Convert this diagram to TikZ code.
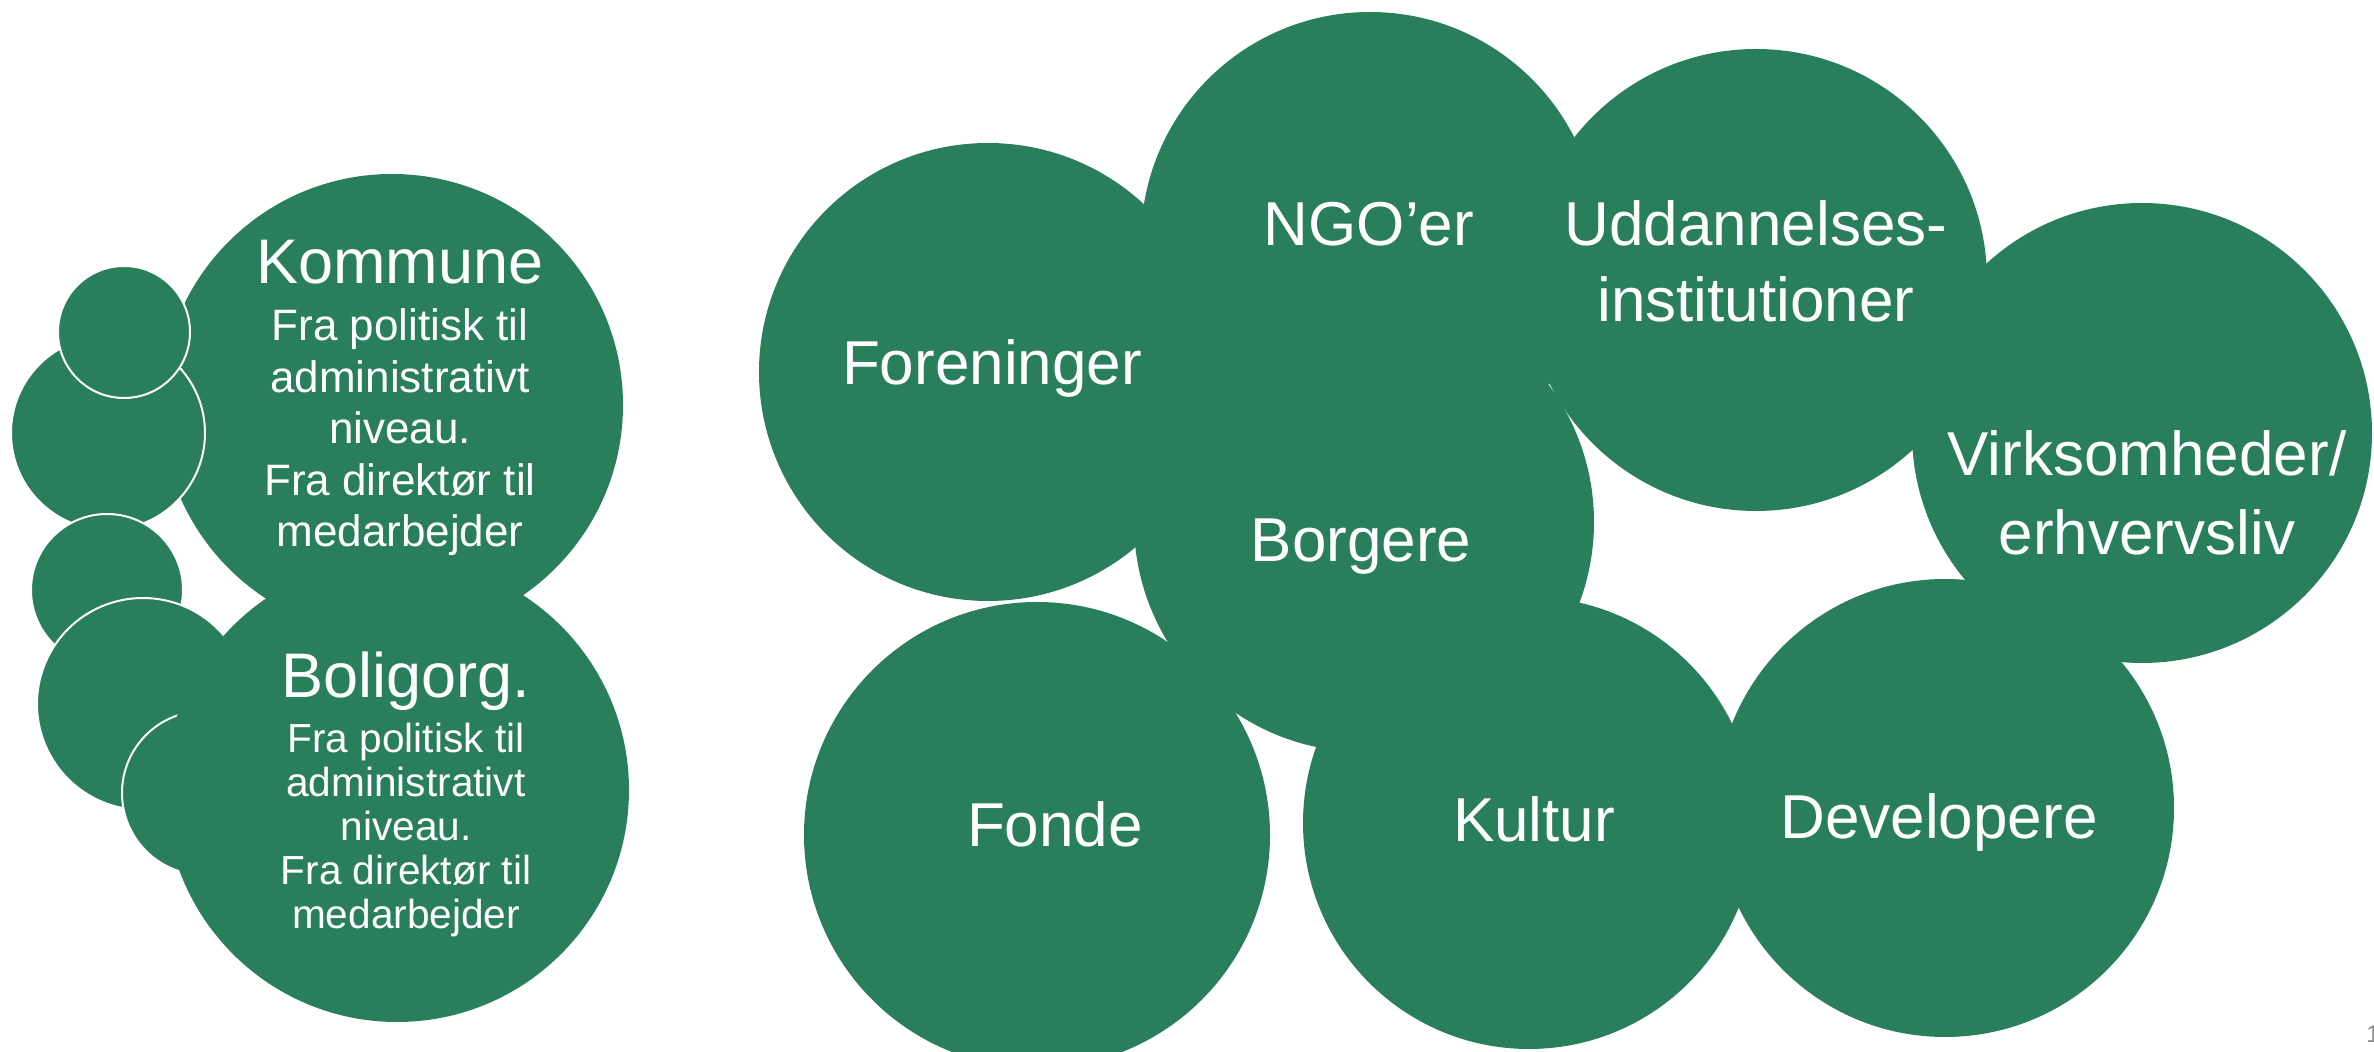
\documentclass[tikz,border=0pt]{standalone}
\usepackage{fontspec}
\setmainfont{Liberation Sans}
\definecolor{grn}{RGB}{41,126,92}
\tikzset{
  bub/.style={circle, fill=grn, inner sep=0pt, outer sep=0pt, minimum size=#1},
  ring/.style={bub=#1, draw=white, line width=1pt},
  lab/.style={text=white, anchor=base, inner sep=0pt, font=\fontsize{31}{37}\selectfont},
  head/.style={lab, font=\fontsize{31.5}{38}\selectfont},
  subA/.style={lab, font=\fontsize{22}{26}\selectfont},
  subB/.style={lab, font=\fontsize{20.3}{24}\selectfont},
  pagenum/.style={anchor=base west, inner sep=0pt, text=black!45, font=\fontsize{12}{14}\selectfont}
}
\begin{document}
\begin{tikzpicture}[x=0.5pt,y=-0.5pt]
\useasboundingbox (0,0) rectangle (2374,1052);
% left group
\node[bub=231pt] (kommune) at (392,405) {};
\node[ring=97pt] (sb) at (108,433) {};
\node[ring=66pt] (sa) at (124,332) {};
\node[ring=76pt] (sc) at (107,590) {};
\node[ring=106pt] (sd) at (143,704) {};
\node[ring=82pt] (se) at (204,793) {};
\node[bub=232pt] (bolig) at (397,790) {};
% right group
\node[bub=229pt] (foren) at (988,372) {};
\node[bub=229pt] (ngo) at (1370,241) {};
\node[bub=231pt] (udd) at (1756,280) {};
\node[bub=230pt] (virk) at (2142,433) {};
\node[bub=230pt] (borg) at (1364,522) {};
\node[bub=233pt] (fonde) at (1037,835) {};
\node[bub=226pt] (kultur) at (1529,823) {};
\node[bub=229pt] (dev) at (1945,808) {};
% texts left
\node[head] (tk) at (400,284) {Kommune};
\node[subA] (tk1) at (400,341) {Fra politisk til};
\node[subA] (tk2) at (400,393) {administrativt};
\node[subA] (tk3) at (400,444) {niveau.};
\node[subA] (tk4) at (400,496) {Fra direktør til};
\node[subA] (tk5) at (400,547) {medarbejder};
\node[head] (tb) at (406,698) {Boligorg.};
\node[subB] (tb1) at (406,753) {Fra politisk til};
\node[subB] (tb2) at (406,797) {administrativt};
\node[subB] (tb3) at (406,841) {niveau.};
\node[subB] (tb4) at (406,885) {Fra direktør til};
\node[subB] (tb5) at (406,929) {medarbejder};
% texts right
\node[lab] (tf) at (992,385) {Foreninger};
\node[lab] (tn) at (1369,246) {NGO’er};
\node[lab] (tu1) at (1756,246) {Uddannelses-};
\node[lab] (tu2) at (1756,322) {institutioner};
\node[lab] (tv1) at (2147,476) {Virksomheder/};
\node[lab] (tv2) at (2147,555) {erhvervsliv};
\node[lab] (tbo) at (1361,562) {Borgere};
\node[lab] (tfo) at (1055,847) {Fonde};
\node[lab] (tku) at (1534,842) {Kultur};
\node[lab] (tde) at (1939,839) {Developere};
\node[pagenum] (pn) at (2366,1043) {1};
\end{tikzpicture}
\end{document}
